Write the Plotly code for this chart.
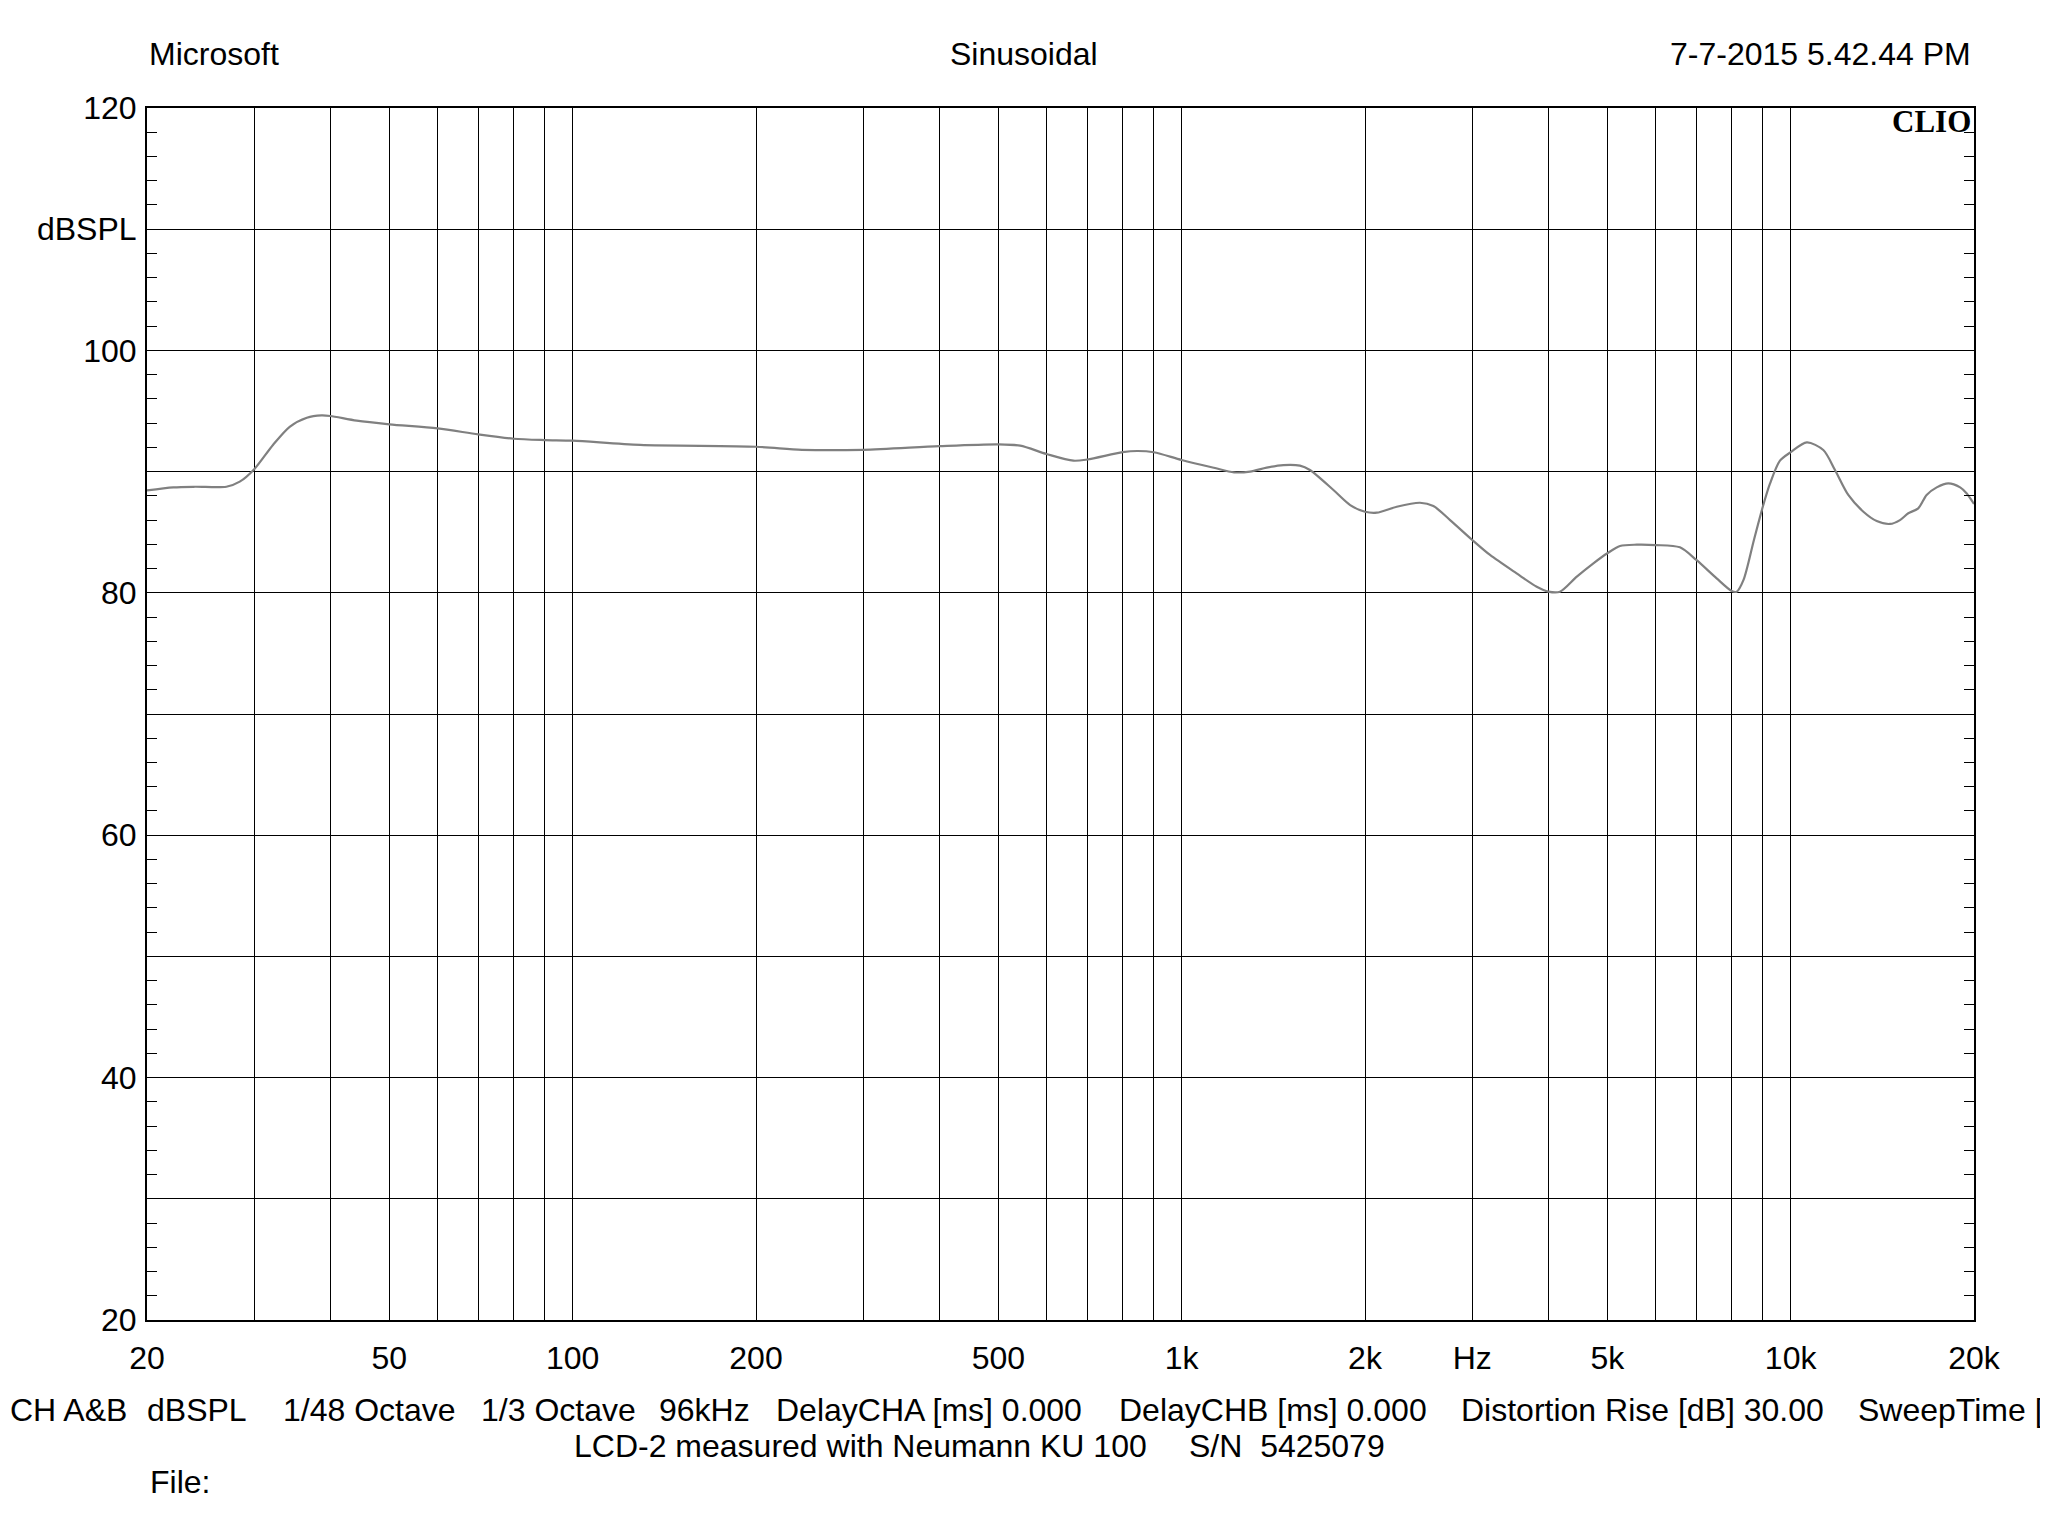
import plotly.graph_objects as go

# ---- data ----
freq_hz = [20, 22.1, 24, 27, 28.4, 30, 32.2, 34.3, 36.6, 38.7, 40, 44.2, 50, 60, 70, 80, 90,
           100, 129, 200, 238, 300, 400, 500, 543, 600, 664, 700, 800, 845, 900, 1000, 1129,
           1219, 1295, 1379, 1469, 1564, 1624, 1775, 1891, 2000, 2091, 2255, 2462, 2590, 2759,
           3000, 3209, 3548, 3828, 4000, 4180, 4455, 4743, 5000, 5245, 5588, 6000, 6579, 7000,
           7559, 8000, 8154, 8367, 8703, 9000, 9247, 9603, 10000, 10630, 11313, 11824, 12434,
           13165, 13845, 14558, 15118, 15600, 16200, 16720, 17370, 18150, 18980, 19460, 20000]
spl_db = [88.45, 88.7, 88.75, 88.75, 89.17, 90.2, 92.2, 93.7, 94.45, 94.64, 94.59, 94.2, 93.9,
          93.57, 93.07, 92.71, 92.6, 92.55, 92.2, 92.05, 91.8, 91.8, 92.1, 92.25, 92.14, 91.45,
          90.9, 91.0, 91.6, 91.7, 91.6, 90.96, 90.32, 89.94, 90.0, 90.33, 90.54, 90.49, 90.13,
          88.48, 87.24, 86.69, 86.61, 87.1, 87.43, 87.16, 86.0, 84.36, 83.12, 81.6, 80.5, 80.1,
          80.09, 81.33, 82.43, 83.26, 83.86, 83.97, 83.94, 83.75, 82.71, 81.19, 80.15, 80.09,
          81.06, 84.36, 87.1, 89.0, 90.9, 91.6, 92.41, 91.78, 90.13, 88.07, 86.69, 85.92, 85.68,
          86.0, 86.56, 86.97, 88.07, 88.7, 89.03, 88.7, 88.2, 87.33]

x_grid = [20, 30, 40, 50, 60, 70, 80, 90, 100, 200, 300, 400, 500, 600, 700, 800, 900,
          1000, 2000, 3000, 4000, 5000, 6000, 7000, 8000, 9000, 10000, 20000]
x_labels = {20: "20", 50: "50", 100: "100", 200: "200", 500: "500", 1000: "1k",
            2000: "2k", 3000: "Hz", 5000: "5k", 10000: "10k", 20000: "20k"}
y_grid = [20, 30, 40, 50, 60, 70, 80, 90, 100, 110, 120]
y_labels = {20: "20", 40: "40", 60: "60", 80: "80", 100: "100", 110: "dBSPL", 120: "120"}

header_left = "Microsoft"
header_center = "Sinusoidal"
header_right = "7-7-2015 5.42.44 PM"
info_line1 = [("CH A&B", 0), ("dBSPL", 145), ("1/48 Octave", 281), ("1/3 Octave", 479),
              ("96kHz", 657), ("DelayCHA [ms] 0.000", 774), ("DelayCHB [ms] 0.000", 1117),
              ("Distortion Rise [dB] 30.00", 1459), ("SweepTime [ms] 1000", 1856)]
info_line2 = [("LCD-2 measured with Neumann KU 100", 572), ("S/N\u00a0\u00a05425079", 1187)]

# ---- layout geometry (page pixels; the page body adds an 8px margin) ----
OFF = 8
W, H = 2048 - OFF, 1536 - OFF
L, R, T, B = 147 - OFF, 1974 - OFF, 108 - OFF, 1320 - OFF
FONT = "Liberation Sans, Arial, sans-serif"
FS = 32


def px(xp):
    return (xp - OFF - L) / (R - L)


def py(yp):
    return (B - (yp - OFF)) / (B - T)


fig = go.Figure()
fig.add_trace(go.Scatter(x=freq_hz, y=spl_db, mode="lines",
                         line=dict(color="#808080", width=2.2, shape="spline", smoothing=0.8),
                         showlegend=False, hoverinfo="skip"))
# helper traces so the tick-only overlay axes are drawn
for ya in ("y2", "y3"):
    fig.add_trace(go.Scatter(x=[20, 20000], y=[20, 120], yaxis=ya, mode="lines",
                             line=dict(width=0), opacity=0, showlegend=False, hoverinfo="skip"))

annotations = [
    dict(text=header_left, x=px(147), y=py(54), xanchor="left", yanchor="middle"),
    dict(text=header_center, x=px(1024), y=py(54), xanchor="center", yanchor="middle"),
    dict(text=header_right, x=px(1973), y=py(54), xanchor="right", yanchor="middle"),
    dict(text="File:", x=px(148), y=py(1482), xanchor="left", yanchor="middle"),
]
for t, xp in info_line1:
    annotations.append(dict(text=t, x=px(max(xp, OFF)), y=py(1410), xanchor="left",
                            yanchor="middle"))
for t, xp in info_line2:
    annotations.append(dict(text=t, x=px(xp), y=py(1446), xanchor="left", yanchor="middle"))
for a in annotations:
    a.update(xref="paper", yref="paper", showarrow=False,
             font=dict(family=FONT, size=FS, color="black"))
annotations.append(dict(text="<b>CLIO</b>", xref="paper", yref="paper", x=px(1973), y=1,
                        xanchor="right", yanchor="top", yshift=6, showarrow=False,
                        font=dict(family="Liberation Serif, Times New Roman, serif", size=31,
                                  color="black")))

fig.update_layout(
    width=W, height=H,
    margin=dict(l=L, r=W - R, t=T, b=H - B, pad=0),
    paper_bgcolor="white", plot_bgcolor="white",
    font=dict(family=FONT, size=FS, color="black"),
    xaxis=dict(type="log", range=[1.30103, 4.30103], tickmode="array", tickvals=x_grid,
               ticktext=[x_labels.get(v, "") for v in x_grid], showgrid=True,
               gridcolor="black", gridwidth=1, ticks="", showline=True, mirror=True,
               linecolor="black", linewidth=2, zeroline=False, ticklabelstandoff=9,
               tickfont=dict(family=FONT, size=FS)),
    yaxis=dict(range=[20, 120], tickmode="array", tickvals=y_grid,
               ticktext=[y_labels.get(v, "") for v in y_grid], showgrid=True,
               gridcolor="black", gridwidth=1, ticks="", showline=True, mirror=True,
               linecolor="black", linewidth=2, zeroline=False, ticklabelstandoff=2,
               tickfont=dict(family=FONT, size=FS)),
    yaxis2=dict(range=[20, 120], overlaying="y", side="right", tickmode="linear", tick0=20,
                dtick=2, ticks="inside", ticklen=10, tickcolor="black", tickwidth=1,
                showticklabels=False, showgrid=False, showline=False, zeroline=False),
    yaxis3=dict(range=[20, 120], overlaying="y", side="left", tickmode="linear", tick0=20,
                dtick=2, ticks="inside", ticklen=10, tickcolor="black", tickwidth=1,
                showticklabels=False, showgrid=False, showline=False, zeroline=False),
    annotations=annotations,
    showlegend=False,
)

fig.write_html("out.html")
